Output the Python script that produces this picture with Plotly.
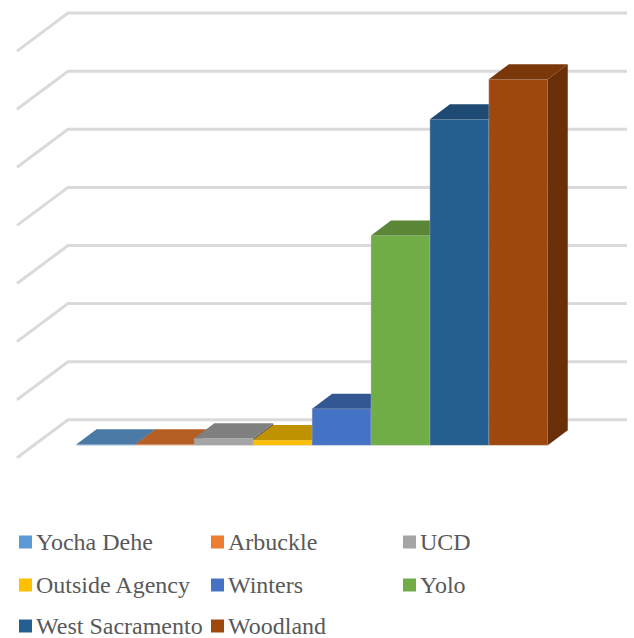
import plotly.graph_objects as go

categories = ["Yocha Dehe", "Arbuckle", "UCD", "Outside Agency", "Winters", "Yolo", "West Sacramento", "Woodland"]
values = [2, 2, 12, 9, 63, 361, 561, 630]
front_colors = ["#5B9BD5", "#ED7D31", "#A5A5A5", "#FFC000", "#4472C4", "#70AD47", "#255E91", "#9E480E"]
top_colors = ["#4A7BA6", "#B55F25", "#7F7F7F", "#C09100", "#335793", "#5A8636", "#1E4A73", "#7A370A"]
side_colors = ["#3A6187", "#8A4A1C", "#646464", "#987200", "#274375", "#466A2A", "#163A5A", "#682F09"]
grid_ticks = [0, 100, 200, 300, 400, 500, 600, 700]

W, H = 634, 638
PX_PER_CAT = 58.9          # horizontal pixels per category
PX_PER_UNIT = 0.581        # vertical pixels per value unit
ZERO_X = 106.0             # pixel x of first category centre
ZERO_Y = 445.3             # pixel y of value 0 at bar front

xr = [-ZERO_X / PX_PER_CAT, (W - ZERO_X) / PX_PER_CAT]
yr = [-(H - ZERO_Y) / PX_PER_UNIT, ZERO_Y / PX_PER_UNIT]

dxc = lambda px: px / PX_PER_CAT
dyv = lambda px: px / PX_PER_UNIT

BAR_DX, BAR_DY = dxc(20), dyv(15)
WALL_LEFT = (68 - ZERO_X) / PX_PER_CAT
WALL_RIGHT = (627 - ZERO_X) / PX_PER_CAT
FLOOR_LEFT = (17 - ZERO_X) / PX_PER_CAT
WALL_DY = dyv(25.5)
FLOOR_DY = dyv(-12.5)

fig = go.Figure()

# Walls / gridlines on the base axes
for t in grid_ticks:
    fig.add_trace(go.Scatter(
        x=[FLOOR_LEFT, WALL_LEFT, WALL_RIGHT],
        y=[t + FLOOR_DY, t + WALL_DY, t + WALL_DY],
        mode="lines", line=dict(color="#DADADA", width=3),
        hoverinfo="skip", showlegend=False, xaxis="x", yaxis="y"))

layout_axes = {}
for i, (name, v) in enumerate(zip(categories, values)):
    n = i + 2
    xa, ya = f"x{n}", f"y{n}"
    l, r = i - 0.5, i + 0.5
    fig.add_trace(go.Bar(
        x=[i], y=[v], width=[1.0], name=name,
        marker=dict(color=front_colors[i], line=dict(color="rgba(190,190,190,0.45)", width=0.8)),
        showlegend=False, xaxis=xa, yaxis=ya))
    fig.add_trace(go.Scatter(
        x=[r, r + BAR_DX, r + BAR_DX, r, r], y=[0, BAR_DY, v + BAR_DY, v, 0],
        mode="lines", fill="toself", fillcolor=side_colors[i], line=dict(width=0),
        hoverinfo="skip", showlegend=False, xaxis=xa, yaxis=ya))
    fig.add_trace(go.Scatter(
        x=[l, l + BAR_DX, r + BAR_DX, r, l], y=[v, v + BAR_DY, v + BAR_DY, v, v],
        mode="lines", fill="toself", fillcolor=top_colors[i], line=dict(width=0),
        hoverinfo="skip", showlegend=False, xaxis=xa, yaxis=ya))
    common = dict(visible=False, fixedrange=True)
    layout_axes[f"xaxis{n}"] = dict(range=xr, overlaying="x", anchor=ya, **common)
    layout_axes[f"yaxis{n}"] = dict(range=yr, overlaying="y", anchor=xa, **common)

# Legend (three columns, three rows)
LEG_COL_X = [19, 211, 403]
LEG_ROW_Y = [542, 585, 626]
SW = 13
shapes, annotations = [], []
for i, name in enumerate(categories):
    cx = LEG_COL_X[i % 3]
    cy = LEG_ROW_Y[i // 3]
    shapes.append(dict(type="rect", xref="paper", yref="paper", line=dict(width=0),
                       fillcolor=front_colors[i], x0=cx / W, x1=(cx + SW) / W,
                       y0=1 - (cy + SW / 2) / H, y1=1 - (cy - SW / 2) / H))
    annotations.append(dict(text=name, xref="paper", yref="paper", showarrow=False,
                            x=(cx + 15) / W, y=1 - (cy - 0.5) / H, xanchor="left", yanchor="middle",
                            align="left",
                            font=dict(family="Liberation Serif", size=24, color="#595959")))

fig.update_layout(
    width=W, height=H, margin=dict(l=0, r=0, t=0, b=0),
    paper_bgcolor="white", plot_bgcolor="white", showlegend=False,
    barmode="overlay", hovermode=False,
    xaxis=dict(range=xr, visible=False, fixedrange=True),
    yaxis=dict(range=yr, visible=False, fixedrange=True),
    shapes=shapes, annotations=annotations,
    **layout_axes)

fig.write_html("out.html", config=dict(displayModeBar=False),
               post_script="document.body.style.margin='0';")
